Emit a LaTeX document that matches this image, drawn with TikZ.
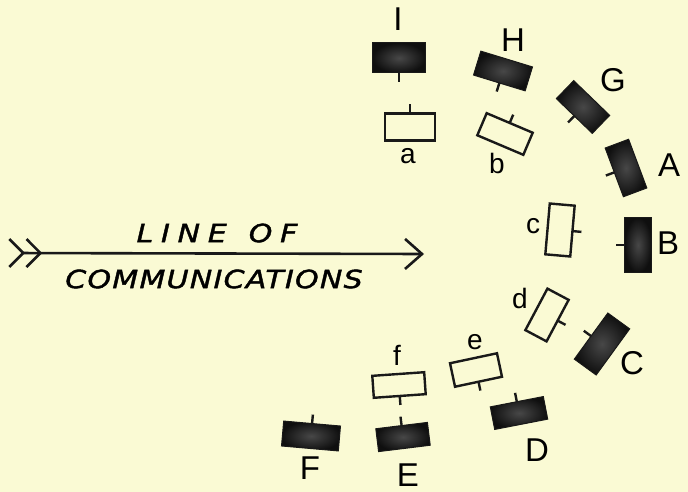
\documentclass[tikz,border=0pt]{standalone}
\usepackage{fontspec}
\setmainfont{Liberation Sans}
\newfontfamily\commfont[FakeStretch=1.2, FakeBold=1.6, LetterSpace=5]{DejaVu Sans}
\usetikzlibrary{arrows.meta,calc}
\definecolor{paper}{RGB}{250,250,212}

\begin{document}
\begin{tikzpicture}[
  x=1pt, y=-1pt,
  darkblock/.style={rectangle, inner sep=0pt, outer sep=0pt, minimum width=54, minimum height=25,
                    draw=black!90, line width=1pt, shading=radial, inner color=black!72, outer color=black!94},
  openblock/.style={rectangle, inner sep=0pt, outer sep=0pt, minimum width=50, minimum height=24,
                    draw=black!90, line width=2.4pt},
  tick/.style={line width=2.4pt, draw=black!90},
  bigletter/.style={font=\fontsize{33}{33}\selectfont, inner sep=0pt},
  smallletter/.style={font=\fontsize{28}{28}\selectfont, inner sep=0pt},
  commtext/.style={font=\commfont\fontsize{25}{25}\selectfont\itshape, inner sep=0pt},
  comm/.style={line width=2.6pt, draw=black!90,
               {Straight Barb[reversed,length=14pt,width=28pt] Straight Barb[reversed,length=14pt,width=28pt]}-{Straight Barb[length=17pt,width=30pt]}}
]
\fill[paper] (0,0) rectangle (688,492);
\useasboundingbox (0,0) rectangle (688,492);

% dark blocks
\node[darkblock, minimum width=53, minimum height=30] (I) at (399,58) {};
\node[darkblock, rotate=-17] (H) at (503,71) {};
\node[darkblock, rotate=-44, minimum width=50] (G) at (583,107) {};
\node[darkblock, rotate=-69.5, minimum width=52] (A) at (626,168) {};
\node[darkblock, rotate=-90, minimum width=55, minimum height=27] (B) at (638,245) {};
\node[darkblock, rotate=54, minimum width=57, minimum height=27] (C) at (602,344) {};
\node[darkblock, rotate=11, minimum height=23] (D) at (519,413) {};
\node[darkblock, rotate=7, minimum width=52, minimum height=23] (E) at (403,437) {};
\node[darkblock, rotate=-5, minimum width=57] (F) at (311,436) {};

% open blocks
\node[openblock, minimum height=27] (a) at (410,127) {};
\node[openblock, rotate=-23] (b) at (505,134) {};
\node[openblock, rotate=85, minimum width=51, minimum height=25] (c) at (560,230) {};
\node[openblock, rotate=62, minimum width=47] (d) at (547,315) {};
\node[openblock, rotate=12, minimum width=48] (e) at (476,370) {};
\node[openblock, rotate=4, minimum width=52, minimum height=22] (f) at (399,385) {};

% ticks
\foreach \blk/\side in {I/south, H/south, G/south, A/south, B/south, C/north, D/north, E/north, F/north,
                         a/north, b/north, c/south, d/south, e/south, f/south}
  \draw[tick] (\blk.\side) -- ($(\blk.\side)!-9pt!(\blk.center)$);

% letters
\node[bigletter] (lblI) at (398,19) {I};
\node[bigletter] (lblH) at (513,40) {H};
\node[bigletter] (lblG) at (613,80) {G};
\node[bigletter] (lblA) at (669,165) {A};
\node[bigletter] (lblB) at (668,243) {B};
\node[bigletter] (lblC) at (632,363) {C};
\node[bigletter] (lblD) at (537,450) {D};
\node[bigletter] (lblE) at (408,475) {E};
\node[bigletter] (lblF) at (310,468) {F};
\node[smallletter] (lbla) at (408,156) {a};
\node[smallletter] (lblb) at (497,163) {b};
\node[smallletter] (lblc) at (533,226) {c};
\node[smallletter] (lbld) at (520,298) {d};
\node[smallletter] (lble) at (475,342) {e};
\node[smallletter] (lblf) at (397,355) {f};

% line of communications
\coordinate (tail) at (8,253);
\coordinate (head) at (424,254);
\draw[comm] (tail) -- (head);
\node[commtext] (lineof) at (217,233) {\addfontfeature{LetterSpace=31}LINE\hspace{22pt}OF};
\node[commtext] (comms) at (214,279) {COMMUNICATIONS};
\end{tikzpicture}
\end{document}
